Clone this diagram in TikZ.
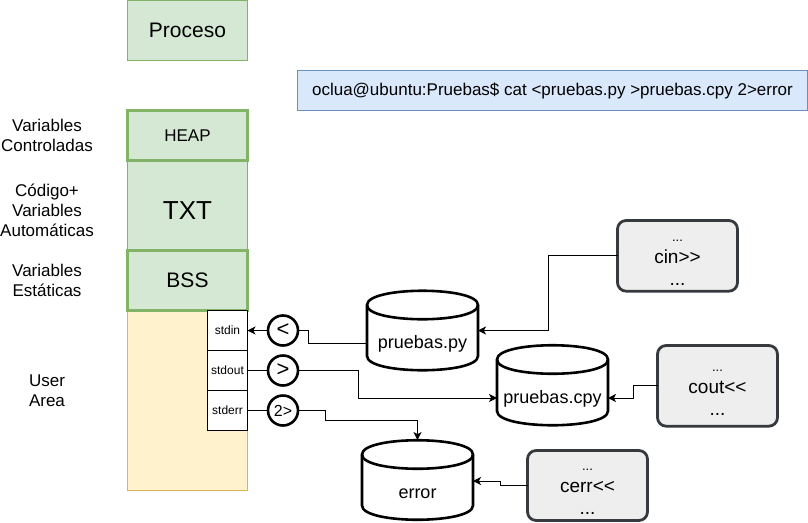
\documentclass[tikz,border=0pt]{standalone}
\usepackage{fontspec}
\setmainfont{Liberation Sans}
\usetikzlibrary{arrows.meta}
\newcommand{\fsz}[1]{\fontsize{#1}{#1}\selectfont}
\newcommand{\smalldots}{\rule{0pt}{11pt}{\fontsize{9.75}{16.5}\selectfont ...}}
\tikzset{
  x=0.75pt,y=-0.75pt,
  every node/.style={inner sep=0pt,outer sep=0pt,text=black},
  px/.style={line width=#1*0.75pt},
  greenbox/.style={draw=greenedge,fill=greenfill,px=1,minimum width=90pt,anchor=north west},
  greenthick/.style={greenbox,px=3},
  yellowbox/.style={draw=yellowedge,fill=yellowfill,px=1,anchor=north west,minimum width=90pt},
  fdbox/.style={draw=black,fill=white,px=1,anchor=north west,minimum width=30pt,minimum height=30pt,font=\fsz{9}},
  redir/.style={circle,draw=black,fill=white,px=2.6,minimum size=22.5pt},
  codebox/.style={draw=codeedge,fill=codefill,px=2.8,rounded corners=6.5pt,minimum width=90pt,anchor=north west,align=center,font=\fontsize{14.25}{16.5}\selectfont},
  sidelabel/.style={align=center,font=\fontsize{12.75}{15}\selectfont},
  cylbody/.style={draw=black,fill=white,px=2.6},
  conn/.style={draw=black,px=1},
  tip/.style={-{Stealth[length=6pt,width=6pt,inset=1.6pt]}},
}
\definecolor{greenfill}{HTML}{D5E8D4}
\definecolor{greenedge}{HTML}{82B366}
\definecolor{yellowfill}{HTML}{FFF2CC}
\definecolor{yellowedge}{HTML}{D6B656}
\definecolor{bluefill}{HTML}{DAE8FC}
\definecolor{blueedge}{HTML}{6C8EBF}
\definecolor{codefill}{HTML}{EEEEEE}
\definecolor{codeedge}{HTML}{36393D}
% x, y(top), w, h, name, text
\newcommand{\cylinder}[6]{%
  \path[cylbody] (#1,#2+14) .. controls (#1,#2-5) and (#1+#3,#2-5) .. (#1+#3,#2+14)
    -- (#1+#3,#2+#4-14) .. controls (#1+#3,#2+#4+5) and (#1,#2+#4+5) .. (#1,#2+#4-14) -- cycle;
  \path[cylbody,fill=none] (#1,#2+14) .. controls (#1,#2+33) and (#1+#3,#2+33) .. (#1+#3,#2+14);
  \node[minimum width=#3*0.75pt,minimum height=#4*0.75pt,anchor=north west] (#5) at (#1,#2) {};
  \node[font=\fsz{13.5}] (#5text) at (#1+#3/2,#2+53) {#6};
}
\begin{document}
\begin{tikzpicture}
\useasboundingbox (0,0) rectangle (808,522);
% memory column
\node[greenbox,minimum height=45.5pt,font=\fsz{15.75}] (proceso) at (127.5,0) {\raisebox{-1pt}{Proceso}};
\node[yellowbox,minimum height=135pt] (user) at (127.5,310) {};
\node[greenbox,minimum height=75pt,font=\fsz{19.5}] (txt) at (127.5,161) {TXT};
\node[greenthick,minimum height=37.5pt,font=\fsz{12.75}] (heap) at (127.5,110.5) {HEAP};
\node[greenthick,minimum height=45pt,font=\fsz{15.75}] (bss) at (127.5,250.5) {BSS};
\node[fdbox] (stdin) at (207.5,310.5) {stdin};
\node[fdbox] (stdout) at (207.5,350.5) {stdout};
\node[fdbox] (stderr) at (207.5,390.5) {stderr};
% command
\node[draw=blueedge,fill=bluefill,px=1,minimum width=382.5pt,minimum height=30pt,anchor=north west,font=\fsz{12.75}] (cmd) at (297.5,70.5) {oclua@ubuntu:Pruebas\$ cat <pruebas.py >pruebas.cpy 2>error};
% side labels
\node[sidelabel] (l1) at (47,135.5) {Variables\\Controladas};
\node[sidelabel] (l2) at (47,210.5) {Código+\\Variables\\Automáticas};
\node[sidelabel] (l3) at (47,280.5) {Variables\\Estáticas};
\node[sidelabel] (l4) at (47,390.5) {User\\Area};
% redirections
\node[redir,font=\fsz{16.5}] (lt) at (283,330.5) {<};
\node[redir,font=\fsz{16.5}] (gt) at (283,370.5) {>};
\node[redir,font=\fsz{12}] (err) at (283,410.5) {2>};
% files
\cylinder{367}{291}{111}{79}{py}{pruebas.py}
\cylinder{497}{345.5}{111}{79.5}{cpy}{pruebas.cpy}
\cylinder{362}{440.5}{111}{79}{errf}{error}
% code boxes
\node[codebox,minimum height=53pt] (cin) at (617.5,220.5) {\smalldots\\cin>{}>\\...};
\node[codebox,minimum height=60.5pt] (cout) at (657.5,345.5) {\smalldots\\cout<{}<\\...};
\node[codebox,minimum height=52.5pt] (cerr) at (527.5,450.5) {\smalldots\\cerr<{}<\\...};
% connectors
\coordinate (pyin) at (367,343);
\coordinate (cpyin) at (497,398);
\coordinate (cpyout) at (608,398);
\coordinate (errin) at (473,481);
\coordinate (errtop) at (417.5,440);
\draw[conn,tip] (cin.west) -- ++(-69.5,0) |- (py.east);
\draw[conn] (lt.east) -- ++(10,0) |- (pyin);
\draw[conn,tip] (lt.west) -- (stdin.east);
\draw[conn] (stdout.east) -- (gt.west);
\draw[conn,tip] (gt.east) -- ++(60,0) |- (cpyin);
\draw[conn] (stderr.east) -- (err.west);
\draw[conn,tip] (err.east) -- ++(27.5,0) |- (417.5,420.5) -- (errtop);
\draw[conn,tip] (cout.west) -- ++(-24,0) |- (cpyout);
\draw[conn,tip] (cerr.west) -- ++(-27,0) |- (errin);
\end{tikzpicture}
\end{document}
